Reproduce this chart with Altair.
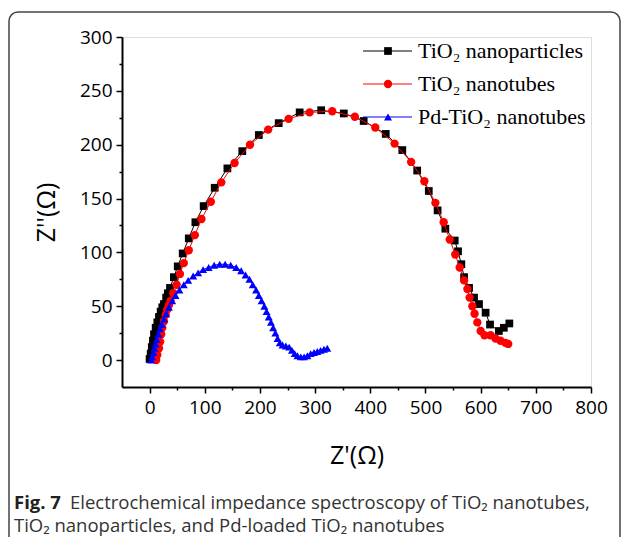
import altair as alt
import pandas as pd

# ---------------- data ----------------
np_x = [0, 2, 4, 6, 8, 11, 14, 17, 20, 23, 26, 30, 33, 37, 44, 51, 60, 71, 83, 98, 118, 141, 168,
        198, 234, 272, 311, 352, 388, 428, 458, 485, 506, 522, 536, 553, 559, 565, 570, 579, 588,
        597, 609, 617, 633, 642, 652]
np_y = [1, 6, 12, 18, 24, 30, 35, 40, 45, 49, 52, 58, 62, 67, 77, 87, 99, 113, 128, 143, 160, 178,
        194, 209, 220, 230, 232, 229, 222, 210, 195, 176, 157, 139, 122, 111, 101, 89, 77, 67, 58,
        52, 44, 33, 27, 30, 34]

nt_x = [12, 14, 17, 19, 21, 23, 26, 29, 32, 35, 38, 43, 49, 55, 62, 71, 82, 94, 111, 130, 154, 182,
        215, 252, 290, 331, 372, 409, 444, 474, 498, 518, 533, 544, 554, 562, 570, 576, 580, 585,
        589, 594, 600, 607, 618, 627, 636, 645, 650]
nt_y = [0, 5, 11, 17, 24, 30, 36, 42, 47, 51, 55, 62, 70, 80, 90, 102, 116, 131, 147, 165, 183, 200,
        214, 224, 230, 231, 226, 216, 201, 184, 166, 146, 128, 112, 98, 86, 74, 66, 58, 50, 43, 35,
        27, 23, 23, 20, 18, 16, 15]

pd_x = [3, 5, 7, 9, 11, 13, 16, 19, 22, 26, 30, 35, 41, 47, 54, 62, 70, 79, 88, 97, 107, 117, 127,
        137, 147, 157, 166, 174, 181, 187, 193, 198, 203, 208, 212, 216, 220, 224, 228, 232, 236,
        241, 247, 253, 258, 263, 268, 274, 280, 286, 292, 298, 304, 310, 316, 322]
pd_y = [0, 3, 7, 11, 15, 19, 24, 29, 33, 38, 43, 49, 55, 60, 65, 70, 74, 78, 81, 84, 86, 88, 89, 89,
        88, 86, 83, 79, 75, 70, 65, 60, 55, 50, 45, 40, 35, 30, 25, 20, 16, 14, 13, 12, 9, 6, 4, 3,
        3, 4, 6, 7, 8, 9, 10, 11]

series_names = ["TiO\u2082 nanoparticles", "TiO\u2082 nanotubes", "Pd-TiO\u2082 nanotubes"]
series_x = [np_x, nt_x, pd_x]
series_y = [np_y, nt_y, pd_y]
series_colors = ["#000000", "#ff0000", "#0000ff"]
series_shapes = ["square", "circle", "triangle-up"]
series_sizes = [60, 70, 64]

x_ticks = list(range(0, 801, 50))
y_ticks = list(range(0, 301, 25))

x_title = "Z'(\u03a9)"
y_title = "Z''(\u03a9)"
caption_bold = "Fig. 7"
caption_line1 = "Electrochemical impedance spectroscopy of TiO\u2082 nanotubes,"
caption_line2 = "TiO\u2082 nanoparticles, and Pd-loaded TiO\u2082 nanotubes"

# ---------------- layout ----------------
W, H = 469, 350
PAD = {"left": 114, "top": 29, "right": 31, "bottom": 150}

xscale = alt.Scale(domain=[-50, 800], nice=False, zero=False)
yscale = alt.Scale(domain=[-25, 300], nice=False, zero=False)

xaxis = alt.Axis(
    title=x_title, values=x_ticks, labelFlush=False, labelOverlap=False,
    labelExpr="datum.value % 100 === 0 ? datum.label : ''",
    tickSize={"condition": {"test": "datum.value % 100 === 0", "value": 6}, "value": 3},
    grid=False, domainColor="black", domainWidth=2, tickColor="black", tickWidth=1.5,
    labelFont="Open Sans", labelFontSize=19, labelColor="black", labelPadding=5,
    titleFont="Open Sans", titleFontSize=25, titleFontWeight="normal", titleColor="black",
    titlePadding=26,
)
yaxis = alt.Axis(
    title=y_title, values=y_ticks, labelFlush=False, labelOverlap=False,
    labelExpr="datum.value % 50 === 0 ? datum.label : ''",
    tickSize={"condition": {"test": "datum.value % 50 === 0", "value": 6}, "value": 3},
    grid=False, domainColor="black", domainWidth=2, tickColor="black", tickWidth=1.5,
    labelFont="Open Sans", labelFontSize=19, labelColor="black", labelPadding=4,
    titleFont="Open Sans", titleFontSize=25, titleFontWeight="normal", titleColor="black",
    titlePadding=20,
)

layers = []

# outer caption frame
frame_df = pd.DataFrame({"k": [0]})
layers.append(
    alt.Chart(frame_df).mark_rect(fillOpacity=0, stroke="#444444", strokeWidth=1.5, cornerRadius=9)
    .encode(x=alt.value(-113), x2=alt.value(498), y=alt.value(-25), y2=alt.value(540))
)

for name, xs, ys, col, shp, sz in zip(series_names, series_x, series_y, series_colors,
                                       series_shapes, series_sizes):
    sdf = pd.DataFrame({"x": xs, "y": ys, "idx": list(range(len(xs))), "series": name})
    base = alt.Chart(sdf).encode(
        x=alt.X("x:Q", scale=xscale, axis=xaxis),
        y=alt.Y("y:Q", scale=yscale, axis=yaxis),
        order=alt.Order("idx:Q"),
    )
    layers.append(base.mark_line(color=col, strokeWidth=1))
    layers.append(base.mark_point(shape=shp, filled=True, color=col, size=sz, opacity=1))

# legend (inside plot, no box)
legend_rows = [14, 47, 80]
for name, col, shp, sz, ly in zip(series_names, series_colors, series_shapes, series_sizes, legend_rows):
    ldf = pd.DataFrame({"label": [name]})
    layers.append(alt.Chart(ldf).mark_rule(color=col, strokeWidth=1)
                  .encode(x=alt.value(241), x2=alt.value(290), y=alt.value(ly)))
    layers.append(alt.Chart(ldf).mark_point(shape=shp, filled=True, color=col, size=sz, opacity=1)
                  .encode(x=alt.value(266), y=alt.value(ly)))
    layers.append(alt.Chart(ldf).mark_text(align="left", baseline="middle", font="Liberation Serif",
                                           fontSize=22, color="black")
                  .encode(x=alt.value(296), y=alt.value(ly), text="label:N"))

# caption
cap_df = pd.DataFrame({"bold": [caption_bold], "l1": [caption_line1], "l2": [caption_line2]})
layers.append(alt.Chart(cap_df).mark_text(align="left", baseline="middle", font="Open Sans",
                                          fontSize=18.5, fontWeight="bold", color="#231f20")
              .encode(x=alt.value(-108), y=alt.value(466), text="bold:N"))
layers.append(alt.Chart(cap_df).mark_text(align="left", baseline="middle", font="Open Sans",
                                          fontSize=18.5, color="#333333")
              .encode(x=alt.value(-52), y=alt.value(466), text="l1:N"))
layers.append(alt.Chart(cap_df).mark_text(align="left", baseline="middle", font="Open Sans",
                                          fontSize=18.5, color="#333333")
              .encode(x=alt.value(-108), y=alt.value(488.5), text="l2:N"))

chart = alt.layer(*layers).properties(
    width=W, height=H,
    autosize=alt.AutoSizeParams(type="none"),
    padding=PAD,
).configure_view(stroke="black", strokeWidth=2).configure(background="white")

chart.save("out.html", embed_options={"renderer": "svg", "actions": False})
